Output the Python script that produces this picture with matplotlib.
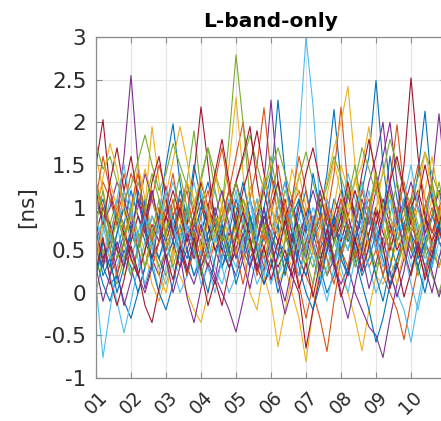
import numpy as np
import matplotlib
matplotlib.use("Agg")
import matplotlib.pyplot as plt

# days 01..11, sampled every 0.2 day
days = np.linspace(1, 11, 51)

s01 = [0.9, 1.1, 0.7, 0.5, 0.8, 1.2, 0.9, 0.6, 0.4, 0.9,
       1.5, 1.98, 1.3, 0.8, 0.6, 1.0, 1.3, 0.9, 0.5, 0.7,
       1.1, 0.8, 0.4, 0.6, 1.0, 1.4, 1.1, 0.7, 0.5, 0.9,
       1.2, 0.8, 0.5, 0.7, 1.1, 0.9, 0.6, 0.8, 1.2, 1.6,
       2.49, 1.5, 0.9, 0.6, 0.8, 1.1, 0.7, 0.5, 0.9, 1.2, 0.8]
s02 = [0.6, 0.3, 0.7, 1.0, 0.8, 0.4, 0.2, 0.5, 0.9, 0.7,
       0.4, 0.6, 1.0, 1.3, 0.9, 0.5, 0.3, 0.6, 0.8, 1.2,
       1.6, 2.0, 1.4, 0.8, 0.5, 0.3, 0.6, 1.0, 0.7, 0.4,
       0.2, 0.0, -0.3, -0.69, -0.1, 0.4, 0.8, 0.5, 0.3, 0.7,
       1.0, 0.8, 1.3, 1.97, 1.2, 0.6, 0.4, 0.7, 1.0, 0.6, 0.5]
s03 = [1.2, 0.9, 0.6, 0.8, 1.1, 0.7, 0.5, 1.0, 1.95, 1.3,
       0.8, 0.5, 0.7, 1.0, 0.6, 0.3, 0.5, 0.9, 0.7, 0.4,
       0.6, 1.0, 0.8, 0.5, 0.7, 0.4, 0.1, 0.3, 0.0, -0.3,
       -0.81, -0.2, 0.3, 0.6, 0.9, 0.7, 1.0, 1.3, 1.5, 1.95,
       1.2, 0.8, 0.5, 0.7, 1.0, 0.6, 0.4, 0.8, 1.1, 0.7, 0.9]
s04 = [0.5, 0.3, 0.6, 0.9, 1.6, 2.55, 1.5, 0.8, 0.4, 0.2,
       0.5, 0.8, 0.6, 0.3, 0.1, 0.4, 0.7, 1.0, 0.7, 0.4,
       0.2, 0.5, 0.9, 0.6, 0.3, 0.5, 0.8, 1.1, 0.7, 0.4,
       0.6, 0.9, 0.5, 0.2, 0.4, 0.7, 0.5, 0.8, 1.1, 0.8,
       1.2, 1.6, 2.0, 1.3, 0.7, 0.4, 0.6, 0.9, 0.5, 0.3, 0.6]
s05 = [0.0, 0.4, 0.8, 1.1, 0.7, 0.9, 1.3, 1.0, 0.6, 0.8,
       1.1, 0.7, 0.9, 1.3, 1.9, 1.2, 0.8, 0.6, 0.9, 1.2,
       0.9, 0.6, 0.8, 1.1, 0.7, 0.5, 0.8, 1.2, 1.0, 0.7,
       0.5, 0.8, 1.1, 0.9, 0.6, 0.4, 0.7, 1.0, 1.3, 0.9,
       0.6, 0.8, 1.2, 0.9, 0.5, 0.7, 1.0, 0.8, 0.5, 0.3, 0.6]
s06 = [0.3, 0.7, 1.1, 0.8, 0.4, 0.2, 0.5, 0.9, 0.6, 0.3,
       0.1, 0.4, 0.7, 0.5, 0.2, 0.5, 0.9, 1.2, 0.8, 0.5,
       0.3, 0.6, 0.4, 0.1, 0.3, 0.7, 0.5, 0.8, 1.0, 1.8,
       3.0, 2.2, 1.0, 0.5, 0.3, 0.6, 0.9, 0.6, 0.3, 0.5,
       0.8, 0.5, 0.2, 0.4, 0.7, 1.0, 0.7, 0.4, 0.6, 0.9, 0.6]
s07 = [1.5, 2.03, 1.2, 0.8, 1.0, 0.7, 0.5, 0.9, 1.2, 0.8,
       0.6, 0.9, 1.1, 0.8, 0.5, 0.7, 1.0, 0.8, 0.6, 1.0,
       1.3, 1.0, 0.7, 0.9, 1.2, 0.8, 0.6, 0.9, 1.1, 0.7,
       0.5, 0.8, 1.1, 0.9, 0.6, 0.8, 1.2, 0.9, 0.7, 1.0,
       1.3, 1.0, 0.7, 0.9, 1.5, 2.52, 1.6, 0.9, 0.7, 1.0, 1.2]
s08 = [0.4, 0.1, -0.1, 0.2, 0.5, 0.3, 0.0, 0.3, 0.6, 0.4,
       0.2, 0.5, 0.8, 0.5, 0.2, 0.4, 0.7, 0.9, 0.6, 0.3,
       0.5, 0.8, 0.6, 0.3, 0.7, 1.3, 2.26, 1.4, 0.8, 0.4,
       0.2, 0.5, 0.3, 0.0, 0.2, 0.5, 0.8, 0.5, 0.2, 0.4,
       0.7, 0.4, 0.1, 0.3, 0.6, 0.9, 1.4, 2.13, 1.2, 0.6, 0.4]
s09 = [1.0, 1.3, 1.1, 0.8, 1.0, 1.4, 1.2, 0.9, 1.1, 1.5,
       1.2, 0.9, 1.1, 0.8, 1.0, 1.3, 1.0, 0.7, 0.9, 1.2,
       1.0, 0.8, 1.1, 1.5, 2.17, 1.4, 0.9, 0.7, 1.0, 1.2,
       0.9, 0.6, 0.8, 1.1, 0.8, 0.5, 0.7, 0.4, 0.6, 0.3,
       0.5, 0.2, 0.0, -0.2, -0.55, -0.1, 0.3, 0.6, 0.4, 0.7, 0.9]
s10 = [1.6, 1.2, 0.8, 0.5, 0.2, 0.4, 0.7, 0.5, 0.1, -0.1,
       0.2, 0.5, 0.3, 0.6, 0.9, 0.7, 0.4, 0.6, 1.0, 1.5,
       2.29, 1.4, 0.8, 0.5, 0.2, -0.1, -0.63, -0.2, 0.2, 0.5,
       0.3, 0.6, 0.9, 0.7, 0.4, 0.2, 0.0, -0.3, -0.68, -0.2,
       0.2, 0.1, 0.3, 0.6, 0.4, 0.2, 0.5, 0.8, 0.6, 0.3, 0.5]
s11 = [0.8, 0.5, 0.2, 0.4, 0.7, 0.5, 0.2, 0.0, 0.3, 0.6,
       0.9, 0.6, 0.3, 0.5, 0.8, 0.6, 0.3, 0.1, 0.4, 0.7,
       0.5, 0.8, 1.1, 0.8, 1.3, 2.26, 1.3, 0.7, 0.4, 0.6,
       0.9, 0.7, 0.4, 0.6, 0.3, 0.1, 0.3, 0.0, -0.2, -0.4,
       -0.5, -0.76, -0.3, 0.1, 0.4, 0.7, 0.5, 0.8, 1.3, 2.1, 1.2]
s12 = [0.2, 0.5, 0.3, 0.1, 0.4, 0.7, 0.5, 0.8, 0.6, 0.3,
       0.5, 0.8, 1.0, 0.7, 0.4, 0.6, 0.9, 0.7, 1.0, 1.8,
       2.79, 2.0, 1.1, 0.6, 0.4, 0.7, 0.5, 0.3, 0.6, 0.8,
       0.5, 0.3, 0.6, 0.9, 0.7, 0.4, 0.2, 0.5, 0.8, 0.6,
       0.3, 0.5, 0.8, 0.6, 0.9, 1.1, 0.8, 0.5, 0.2, 0.0, 0.3]
s13 = [0.1, -0.76, -0.2, 0.3, 0.6, 0.4, 0.7, 1.0, 0.7, 0.4,
       0.6, 0.3, 0.0, 0.2, 0.5, 0.8, 0.6, 0.3, 0.1, 0.4,
       0.7, 0.5, 0.8, 1.1, 0.8, 0.5, 0.2, 0.4, 0.7, 0.9,
       0.6, 0.4, 0.1, 0.3, 0.6, 0.9, 1.2, 0.8, 0.5, 0.3,
       0.0, 0.2, 0.5, 0.8, 0.6, 0.3, 0.5, 0.9, 1.2, 0.9, 0.6]
s14 = [0.7, 1.0, 0.8, 0.5, 0.3, 0.6, 0.9, 0.7, 0.4, 0.6,
       0.9, 0.7, 0.5, 0.8, 1.4, 2.18, 1.5, 0.8, 0.5, 0.3,
       0.5, 0.8, 0.6, 0.3, 0.1, 0.3, 0.6, 0.4, 0.2, 0.5,
       0.8, 0.6, 0.3, 0.5, 0.9, 1.2, 0.9, 0.6, 0.4, 0.7,
       1.0, 0.7, 0.5, 0.8, 1.1, 0.8, 0.6, 0.3, 0.5, 0.8, 1.0]
s15 = [0.5, 0.3, 0.1, 0.2, -0.1, -0.3, 0.0, 0.3, 0.6, 0.4,
       0.7, 0.9, 0.6, 0.4, 0.7, 1.0, 0.8, 0.5, 0.3, 0.6,
       0.8, 0.5, 0.3, 0.6, 0.9, 0.7, 0.4, 0.6, 0.9, 1.1,
       0.8, 0.6, 0.9, 1.4, 2.15, 1.3, 0.7, 0.4, 0.1, -0.2,
       -0.58, -0.3, 0.1, 0.4, 0.7, 0.5, 0.3, 0.6, 0.9, 0.7, 0.5]
s16 = [1.3, 1.0, 0.7, 0.9, 1.2, 0.9, 0.6, 0.8, 1.1, 0.8,
       0.5, 0.7, 1.0, 0.8, 0.5, 0.3, 0.6, 0.9, 0.7, 0.5,
       0.8, 1.1, 0.9, 0.6, 0.4, 0.6, 0.9, 0.7, 0.4, 0.2,
       0.6, 0.8, 0.5, 0.9, 1.4, 2.18, 1.2, 0.7, 0.9, 1.1,
       0.8, 0.5, 0.7, 1.0, 0.8, 0.5, 0.7, 1.0, 1.3, 0.9, 0.7]
s17 = [0.9, 0.6, 0.4, 0.7, 1.0, 0.8, 0.5, 0.3, 0.6, 0.9,
       0.7, 0.4, 0.2, 0.0, -0.2, -0.35, 0.0, 0.4, 0.7, 0.5,
       0.8, 1.1, 0.8, 0.5, 0.7, 1.0, 0.8, 0.5, 0.3, 0.6,
       0.9, 0.7, 1.0, 1.3, 1.7, 2.0, 2.42, 1.5, 0.9, 0.6,
       0.8, 1.1, 0.9, 0.6, 0.4, 0.7, 1.0, 0.8, 0.5, 0.7, 1.0]
s18 = [1.1, 0.8, 1.0, 1.3, 1.1, 0.8, 1.0, 1.4, 1.1, 0.8,
       1.0, 0.7, 0.5, 0.8, 0.6, 0.3, 0.5, 0.2, 0.0, -0.2,
       -0.46, -0.1, 0.3, 0.6, 0.9, 0.7, 1.0, 1.3, 1.0, 0.7,
       0.9, 1.2, 0.9, 0.6, 0.8, 1.1, 0.9, 0.6, 0.9, 1.3,
       1.6, 2.0, 1.2, 0.8, 1.0, 1.3, 1.0, 0.7, 0.9, 1.2, 1.0]
s19 = [1.75, 1.45, 1.6, 1.3, 1.1, 1.25, 1.55, 1.85, 1.5, 1.2,
       1.4, 1.75, 1.5, 1.25, 1.0, 1.35, 1.7, 1.4, 1.15, 0.95,
       1.3, 1.55, 1.85, 1.5, 1.2, 1.45, 1.7, 1.4, 1.1, 1.35,
       1.65, 1.3, 1.0, 1.25, 1.6, 1.35, 1.1, 1.3, 1.7, 1.45,
       1.15, 1.4, 1.8, 1.5, 1.2, 1.05, 1.35, 1.65, 1.4, 1.15, 1.35]
s20 = [0.9, 0.5, 0.2, -0.1, -0.47, -0.1, 0.3, 0.6, 0.9, 0.7,
       1.0, 1.3, 1.0, 0.7, 0.9, 1.2, 0.9, 0.6, 0.8, 1.1,
       0.8, 0.5, 0.7, 1.0, 1.3, 1.0, 0.7, 0.9, 0.6, 0.4,
       0.7, 1.0, 0.8, 0.5, 0.7, 1.0, 1.4, 1.1, 0.8, 0.6,
       0.8, 0.5, 0.2, 0.0, -0.2, -0.58, -0.1, 0.3, 0.6, 0.9, 0.7]
s21 = [0.7, 0.4, 0.6, 0.9, 0.7, 0.4, 0.2, 0.5, 0.8, 0.6,
       0.9, 1.2, 0.9, 0.6, 0.8, 1.1, 0.8, 0.5, 0.7, 1.0,
       1.3, 1.6, 1.95, 1.3, 0.8, 0.5, 0.3, 0.5, 0.2, 0.0,
       -0.65, -0.2, 0.2, 0.5, 0.8, 0.6, 0.9, 1.2, 0.9, 0.6,
       0.8, 1.1, 0.8, 0.5, 0.7, 1.0, 1.2, 0.9, 0.6, 0.8, 1.1]
s22 = [0.6, 0.2, 0.4, 0.0, 0.3, 0.8, 0.5, 1.1, 0.7, 0.9,
       0.4, 0.6, 1.2, 0.9, 1.5, 1.1, 0.6, 0.8, 0.3, 0.5,
       0.1, 0.4, 0.9, 0.6, 1.0, 0.5, 0.8, 0.2, 0.6, 1.1,
       0.7, 1.4, 1.0, 0.6, 0.9, 0.4, 0.2, 0.7, 0.5, 1.0,
       0.6, 0.9, 1.6, 1.1, 0.7, 1.0, 0.4, 0.6, 0.3, 0.8, 0.5]
s23 = [1.1, 1.6, 1.2, 0.9, 1.4, 1.0, 0.5, 0.8, 0.3, 0.6,
       1.0, 1.4, 0.9, 1.2, 0.7, 0.4, 0.9, 1.3, 1.7, 1.2,
       0.8, 0.4, 0.6, 0.2, 0.5, 0.9, 1.3, 0.8, 1.1, 1.6,
       1.2, 0.7, 0.9, 0.4, 0.1, 0.5, 0.3, 0.8, 1.2, 0.9,
       1.4, 1.0, 0.6, 0.3, 0.7, 1.1, 1.5, 1.1, 0.7, 0.9, 1.3]
s24 = [0.3, 0.8, 1.3, 1.0, 0.6, 0.9, 1.5, 1.1, 0.7, 0.2,
       0.0, 0.4, 0.8, 1.3, 1.1, 0.5, 0.8, 1.4, 1.0, 0.6,
       0.9, 0.5, 0.0, -0.2, 0.3, 0.7, 1.1, 0.6, 0.9, 1.4,
       1.0, 0.5, 0.2, 0.6, 1.0, 1.5, 1.2, 0.7, 0.4, 0.9,
       1.3, 0.8, 0.4, 0.1, 0.5, 0.9, 0.6, 1.2, 1.6, 1.1, 0.7]
s25 = [0.75, 0.35, 0.65, 0.25, -0.15, 0.15, 0.55, 0.05, 0.35, 0.85,
       1.25, 0.75, 0.45, -0.05, -0.35, 0.05, 0.35, 0.15, 0.65, 1.05,
       0.75, 0.35, 0.05, 0.45, 0.25, 0.65, 0.15, -0.25, 0.05, 0.55,
       0.95, 0.55, 0.25, 0.65, 0.35, 0.75, 1.15, 0.85, 0.45, 0.05,
       0.35, 0.65, 0.25, -0.05, 0.25, 0.75, 1.15, 0.65, 0.25, -0.05, 0.25]
s26 = [0.8, 1.2, 0.7, 0.4, 0.6, 0.2, 0.5, 1.0, 1.4, 1.1,
       0.6, 0.3, 0.6, 1.0, 0.8, 1.3, 1.7, 1.2, 0.8, 0.4,
       0.7, 1.1, 0.8, 0.4, 0.8, 0.5, 0.2, 0.6, 1.0, 0.6,
       0.3, 0.7, 1.2, 0.8, 0.4, 0.7, 1.1, 1.5, 1.0, 0.5,
       0.2, 0.6, 0.9, 1.3, 1.0, 0.6, 0.2, 0.5, 0.9, 1.3, 0.9]
s27 = [1.2, 0.8, 0.4, 0.7, 1.2, 0.9, 0.4, 0.1, 0.4, 0.0,
       0.3, 0.8, 0.5, 0.9, 1.3, 0.9, 0.4, 0.7, 0.3, 0.0,
       0.2, 0.7, 1.1, 0.7, 0.4, 0.1, 0.4, 0.9, 0.5, 0.2,
       0.5, 0.9, 0.6, 1.1, 0.7, 0.3, 0.0, 0.4, 0.8, 1.2,
       0.7, 0.3, 0.6, 1.0, 0.5, 0.1, -0.2, 0.2, 0.6, 0.4, 0.8]
s28 = [1.2, 0.8, 1.3, 1.7, 1.2, 1.6, 1.1, 0.8, 1.3, 1.6,
       1.1, 0.7, 1.0, 0.6, 0.9, 1.3, 1.0, 1.4, 1.8, 1.3,
       0.8, 1.2, 1.5, 1.9, 1.4, 1.0, 1.3, 0.9, 0.6, 1.0,
       1.4, 1.7, 1.3, 1.0, 0.6, 0.9, 1.3, 0.9, 1.4, 1.8,
       1.4, 0.9, 1.3, 1.6, 1.2, 0.8, 1.1, 1.5, 1.1, 0.8, 1.2]
s29 = [0.2, 0.6, 0.3, 0.7, 1.0, 0.6, 1.2, 0.8, 0.3, 0.0,
       -0.2, 0.1, 0.5, 0.2, 0.6, 0.3, 0.0, 0.4, 0.8, 0.5,
       0.9, 1.3, 0.9, 0.5, 0.1, 0.4, 0.0, 0.3, 0.7, 0.3,
       0.0, -0.2, 0.1, 0.5, 0.9, 0.5, 0.2, 0.6, 1.0, 0.6,
       0.2, -0.1, 0.3, 0.7, 1.1, 0.7, 0.3, 0.0, 0.4, 0.8, 0.4]
s30 = [0.4, 0.9, 0.5, 0.2, 0.6, 1.0, 1.4, 0.9, 0.6, 1.0,
       0.7, 1.1, 0.6, 0.2, 0.5, 0.9, 1.2, 0.8, 0.4, 0.8,
       0.5, 0.1, 0.5, 0.9, 0.6, 1.1, 1.5, 1.0, 0.5, 0.1,
       -0.3, 0.1, 0.6, 1.0, 0.7, 1.1, 0.8, 0.4, 0.7, 1.0,
       0.6, 0.2, 0.6, 0.9, 1.3, 0.9, 0.5, 0.2, 0.6, 1.0, 0.7]
s31 = [0.95, 1.35, 1.75, 1.45, 0.95, 0.65, 1.05, 1.45, 1.15, 0.75,
       1.15, 1.55, 1.95, 1.55, 1.05, 1.35, 0.95, 0.65, 1.05, 0.75,
       0.45, 0.85, 1.25, 0.95, 1.35, 1.05, 0.65, 0.95, 1.45, 1.15,
       0.85, 0.45, 0.75, 1.15, 1.55, 1.15, 0.85, 1.35, 0.95, 0.55,
       0.95, 1.45, 1.15, 0.75, 0.45, 0.75, 1.15, 1.65, 1.25, 0.85, 1.25]
s32 = [0.3, -0.1, 0.2, 0.6, 0.3, 0.7, 1.1, 0.7, 1.2, 0.8,
       0.4, 0.0, 0.3, 0.7, 0.4, 0.8, 0.5, 0.9, 1.2, 0.8,
       0.4, 0.7, 0.3, 0.6, 1.0, 0.6, 0.2, -0.1, 0.3, 0.7,
       0.4, 0.8, 1.2, 0.8, 0.4, 0.0, -0.3, 0.1, 0.5, 0.9,
       0.5, 0.9, 1.3, 0.9, 0.5, 0.2, 0.6, 0.3, 0.0, 0.4, 0.7]
s33 = [1.3, 0.9, 0.5, 0.9, 0.6, 1.0, 0.7, 0.3, 0.7, 1.1,
       0.7, 1.0, 1.4, 1.0, 0.6, 0.2, 0.5, 0.9, 0.6, 1.0,
       1.3, 0.9, 0.5, 0.8, 1.2, 1.6, 1.1, 0.7, 0.4, 0.8,
       0.4, 0.1, 0.5, 0.2, 0.6, 1.0, 0.7, 0.3, 0.6, 1.0,
       1.4, 1.0, 0.6, 0.3, 0.6, 1.0, 0.6, 0.9, 1.3, 0.9, 0.5]
s34 = [0.5, 0.9, 0.6, 1.1, 1.5, 1.0, 0.6, 0.9, 0.5, 0.8,
       1.2, 0.8, 0.4, 0.8, 0.5, 0.1, 0.3, 0.0, 0.4, 0.8,
       1.2, 0.8, 1.1, 0.6, 0.2, 0.6, 1.0, 1.3, 0.8, 0.5,
       0.9, 0.6, 0.2, -0.1, 0.3, 0.7, 0.5, 0.9, 1.3, 0.9,
       0.5, 0.8, 1.1, 0.7, 1.1, 1.5, 1.0, 0.6, 0.3, 0.6, 1.0]
s35 = [0.25, 0.65, 0.15, -0.15, 0.15, 0.55, 0.25, -0.15, -0.35, 0.05,
       0.45, 0.15, 0.55, 0.25, 0.65, 0.25, -0.15, 0.15, -0.15, 0.25,
       0.65, 0.95, 0.65, 0.25, 0.55, 0.15, 0.45, 0.85, 0.45, 0.05,
       0.35, -0.05, 0.35, 0.75, 0.35, -0.05, 0.25, 0.65, 0.25, 0.55,
       0.95, 0.55, 0.05, 0.35, -0.05, 0.25, 0.55, 0.15, 0.45, 0.75, 0.45]

series = [s01, s02, s03, s04, s05, s06, s07, s08, s09, s10, s11, s12,
          s13, s14, s15, s16, s17, s18, s19, s20, s21, s22, s23, s24,
          s25, s26, s27, s28, s29, s30, s31, s32, s33, s34, s35]

xtick_pos = [1, 2, 3, 4, 5, 6, 7, 8, 9, 10]
xtick_lab = ["01", "02", "03", "04", "05", "06", "07", "08", "09", "10"]
ytick_pos = [-1, -0.5, 0, 0.5, 1, 1.5, 2, 2.5, 3]
ytick_lab = ["-1", "-0.5", "0", "0.5", "1", "1.5", "2", "2.5", "3"]

# matlab default line colours
matlab_colors = ["#0072BD", "#D95319", "#EDB120", "#7E2F8E",
                 "#77AC30", "#4DBEEE", "#A2142F"]

fig = plt.figure(figsize=(4.41, 4.21), dpi=100)
ax = fig.add_axes([96 / 441, 43 / 421, 350 / 441, 341 / 421])

for k, s in enumerate(series):
    ax.plot(days, s, color=matlab_colors[k % 7], lw=0.8)

ax.set_xlim(1, 11)
ax.set_ylim(-1, 3)
ax.set_xticks(xtick_pos)
ax.set_xticklabels(xtick_lab, rotation=45, ha="center", va="top")
ax.set_yticks(ytick_pos)
ax.set_yticklabels(ytick_lab)

ax.grid(True, color="#e3e3e3", lw=0.8)
ax.set_axisbelow(True)
for sp in ax.spines.values():
    sp.set_color("#8a8a8a")
    sp.set_linewidth(0.9)
ax.tick_params(axis="both", direction="in", length=4, width=0.8,
               color="#8a8a8a", top=True, right=True,
               labelcolor="#2b2b2b", labelsize=15.5)
ax.tick_params(axis="x", pad=7, labelsize=13.5)
ax.tick_params(axis="y", pad=7)

ax.set_title("L-band-only", fontsize=14.5, fontweight="bold", pad=7)
ax.set_ylabel("[ns]", fontsize=15.5, color="#2b2b2b")
ax.yaxis.set_label_coords(-0.169, 0.5)

fig.savefig("out.png", dpi=100)
